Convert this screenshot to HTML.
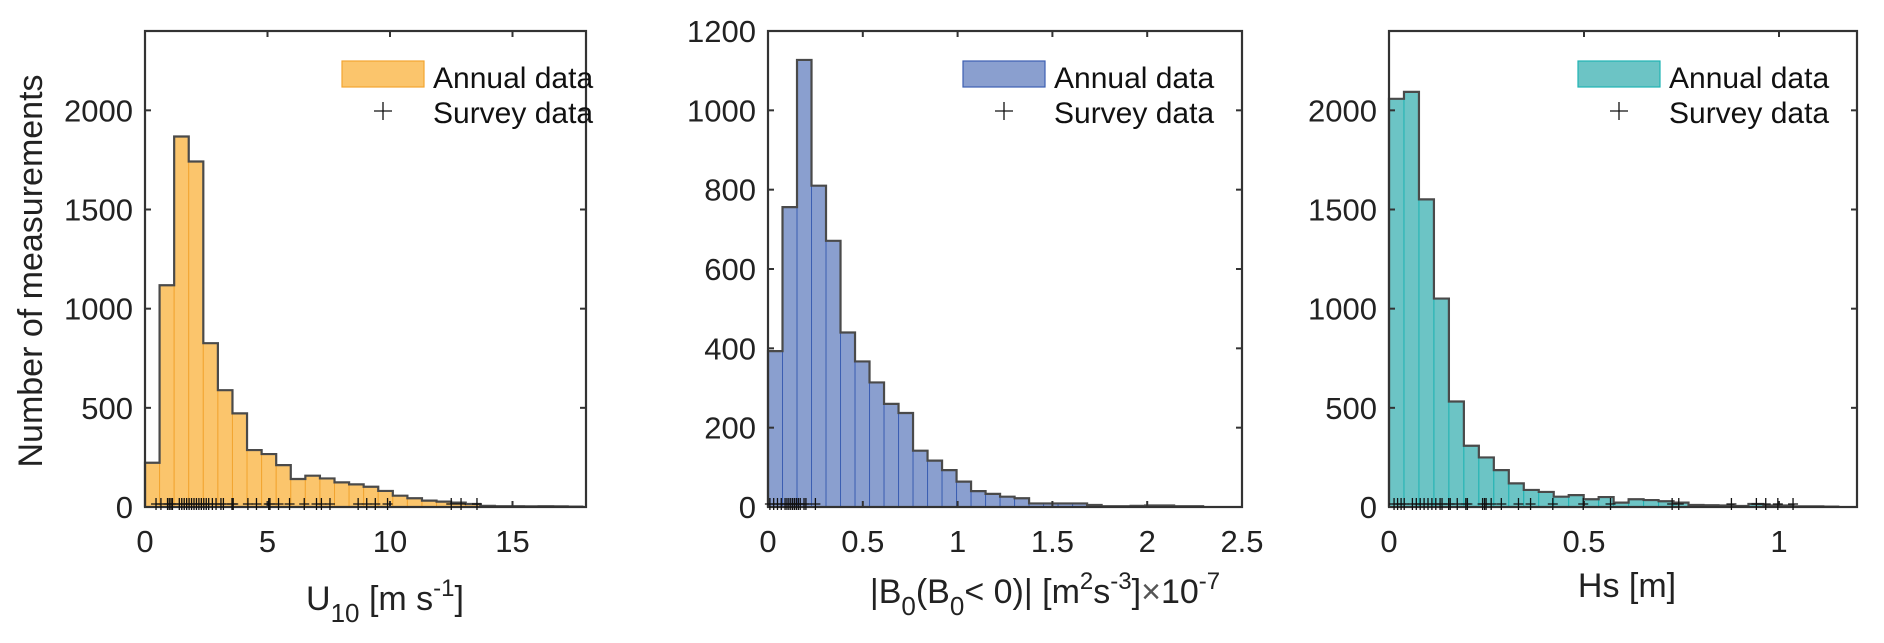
<!DOCTYPE html>
<html><head><meta charset="utf-8"><style>
html,body{margin:0;padding:0;background:#fff;}
svg{display:block;font-family:"Liberation Sans",Arial,sans-serif;}
</style></head><body>
<svg id="fig" width="1884" height="643" viewBox="0 0 1884 643" xmlns="http://www.w3.org/2000/svg">
<text transform="translate(42,271) rotate(-90)" text-anchor="middle" font-size="34" fill="#222">Number of measurements</text>
<text x="385" y="610" text-anchor="middle" font-size="34" fill="#222">U<tspan font-size="26" dy="12">10</tspan><tspan dy="-12"> [m s</tspan><tspan font-size="24" dy="-14">-1</tspan><tspan dy="14">]</tspan></text>
<text x="1045" y="603" text-anchor="middle" font-size="34" fill="#222">|B<tspan font-size="26" dy="12">0</tspan><tspan dy="-12">(B</tspan><tspan font-size="26" dy="12">0</tspan><tspan dy="-12">&lt; 0)| [m</tspan><tspan font-size="24" dy="-14">2</tspan><tspan dy="14">s</tspan><tspan font-size="24" dy="-14">-3</tspan><tspan dy="14">]</tspan><tspan fill="#555">×</tspan>10<tspan font-size="24" dy="-14">-7</tspan></text>
<text x="1627" y="597" text-anchor="middle" font-size="34" fill="#222">Hs [m]</text>
</svg>
<script>
// Panel 1: U10
const u10Counts = [223,1118,1868,1742,826,589,472,287,267,211,141,158,144,124,114,102,81,57,44,32,27,22,15,6,4,4,3,4,3,2];
const u10Survey = [0.45,0.65,0.92,0.99,1.06,1.12,1.4,1.5,1.6,1.7,1.8,1.9,2.0,2.1,2.2,2.3,2.4,2.5,2.6,2.75,2.9,3.1,3.2,3.55,3.6,4.2,4.55,5.05,5.1,5.45,5.9,6.5,7.0,7.2,7.55,8.7,9.05,9.4,9.9,12.5,12.9,13.55];
const u10XTicks = [0,5,10,15];
const u10YTicks = [0,500,1000,1500,2000];
// Panel 2: buoyancy flux
const bCounts = [393,756,1127,810,671,440,367,314,260,237,142,117,93,64,40,33,26,22,9,9,9,9,5,2,2,3,4,4,2,2];
const bSurvey = [0.01,0.03,0.05,0.07,0.09,0.1,0.11,0.12,0.13,0.14,0.15,0.16,0.17,0.19,0.2,0.25];
const bXTicks = [0,0.5,1,1.5,2,2.5];
const bYTicks = [0,200,400,600,800,1000,1200];
// Panel 3: Hs
const hsCounts = [2058,2093,1551,1051,532,309,250,186,119,86,76,52,60,39,50,22,39,35,29,22,10,9,8,5,15,8,8,3,3,2];
const hsSurvey = [0.013,0.022,0.031,0.039,0.06,0.07,0.08,0.09,0.1,0.11,0.12,0.131,0.136,0.153,0.157,0.175,0.197,0.201,0.24,0.245,0.249,0.262,0.288,0.332,0.363,0.42,0.498,0.568,0.726,0.743,0.878,0.942,0.966,0.997,1.036];
const hsXTicks = [0,0.5,1];
const hsYTicks = [0,500,1000,1500,2000];

const NS = "http://www.w3.org/2000/svg";
const svg = document.getElementById('fig');
function mk(tag, attrs, parent){
  const e = document.createElementNS(NS, tag);
  for (const k in attrs) e.setAttribute(k, attrs[k]);
  (parent||svg).appendChild(e);
  return e;
}
const panels = [
  {id:'u10', counts:u10Counts, survey:u10Survey, xt:u10XTicks, yt:u10YTicks, x0:145, x1:586, xmax:18, ymax:2400, binw:0.595, fill:'#fbc56c', edge:'#f2a531', lx:342},
  {id:'buoyancy', counts:bCounts, survey:bSurvey, xt:bXTicks, yt:bYTicks, x0:768, x1:1242, xmax:2.5, ymax:1200, binw:0.0765, fill:'#8a9fcf', edge:'#3c5fb2', lx:963},
  {id:'hs', counts:hsCounts, survey:hsSurvey, xt:hsXTicks, yt:hsYTicks, x0:1389, x1:1857, xmax:1.2, ymax:2400, binw:0.0384, fill:'#6cc4c5', edge:'#1fb3b3', lx:1578}
];
const Y0 = 507, Y1 = 31;
panels.forEach(p => {
  const sx = v => p.x0 + (p.x1 - p.x0) * v / p.xmax;
  const sy = v => Y0 - (Y0 - Y1) * v / p.ymax;
  const g = mk('g', {});
  
  
  let d = 'M' + sx(0) + ' ' + Y0;
  p.counts.forEach((c, i) => {
    const xa = sx(i * p.binw), xb = sx((i + 1) * p.binw);
    const r = mk('rect', {x:xa, y:sy(c), width:xb - xa, height:Y0 - sy(c), fill:p.fill, stroke:p.edge, 'stroke-width':1}, g);
    
    
    d += ' L' + xa + ' ' + sy(c) + ' L' + xb + ' ' + sy(c);
  });
  d += ' L' + sx(p.counts.length * p.binw) + ' ' + Y0;
  const outline = mk('path', {d:d, fill:'none', stroke:'#4a4a4a', 'stroke-width':2.2}, g);
  
  
  const box = mk('rect', {x:p.x0, y:Y1, width:p.x1 - p.x0, height:Y0 - Y1, fill:'none', stroke:'#333', 'stroke-width':2.2}, g);
  
  
  p.xt.forEach(t => {
    const x = sx(t);
    mk('line', {x1:x, x2:x, y1:Y0, y2:Y0 - 6, stroke:'#333', 'stroke-width':2}, g);
    mk('line', {x1:x, x2:x, y1:Y1, y2:Y1 + 6, stroke:'#333', 'stroke-width':2}, g);
    const tl = mk('text', {x:x, y:552, 'text-anchor':'middle', 'font-size':31, fill:'#222'}, g);
    
    
    tl.textContent = String(t);
  });
  p.yt.forEach(t => {
    const y = sy(t);
    mk('line', {x1:p.x0, x2:p.x0 + 6, y1:y, y2:y, stroke:'#333', 'stroke-width':2}, g);
    mk('line', {x1:p.x1, x2:p.x1 - 6, y1:y, y2:y, stroke:'#333', 'stroke-width':2}, g);
    const tl = mk('text', {x:p.x0 - 12, y:y + 11, 'text-anchor':'end', 'font-size':31, fill:'#222'}, g);
    
    
    tl.textContent = String(t);
  });
  p.survey.forEach(v => {
    const x = sx(v);
    const m = mk('path', {d:'M' + (x - 5) + ' 504 L' + (x + 5) + ' 504 M' + x + ' 498 L' + x + ' 510', stroke:'#111', 'stroke-width':1.3, fill:'none'}, g);
    
    
  });
  const lg = mk('g', {}, g);
  
  
  mk('rect', {x:p.lx, y:61, width:82, height:26, fill:p.fill, stroke:p.edge, 'stroke-width':1.2}, lg);
  const t1 = mk('text', {x:p.lx + 91, y:88, 'font-size':30, fill:'#111'}, lg);
  
  
  t1.textContent = 'Annual data';
  mk('path', {d:'M' + (p.lx + 32) + ' 111 L' + (p.lx + 50) + ' 111 M' + (p.lx + 41) + ' 102 L' + (p.lx + 41) + ' 120', stroke:'#111', 'stroke-width':1.3}, lg);
  const t2 = mk('text', {x:p.lx + 91, y:123, 'font-size':30, fill:'#111'}, lg);
  
  
  t2.textContent = 'Survey data';
});
</script>
</body></html>
